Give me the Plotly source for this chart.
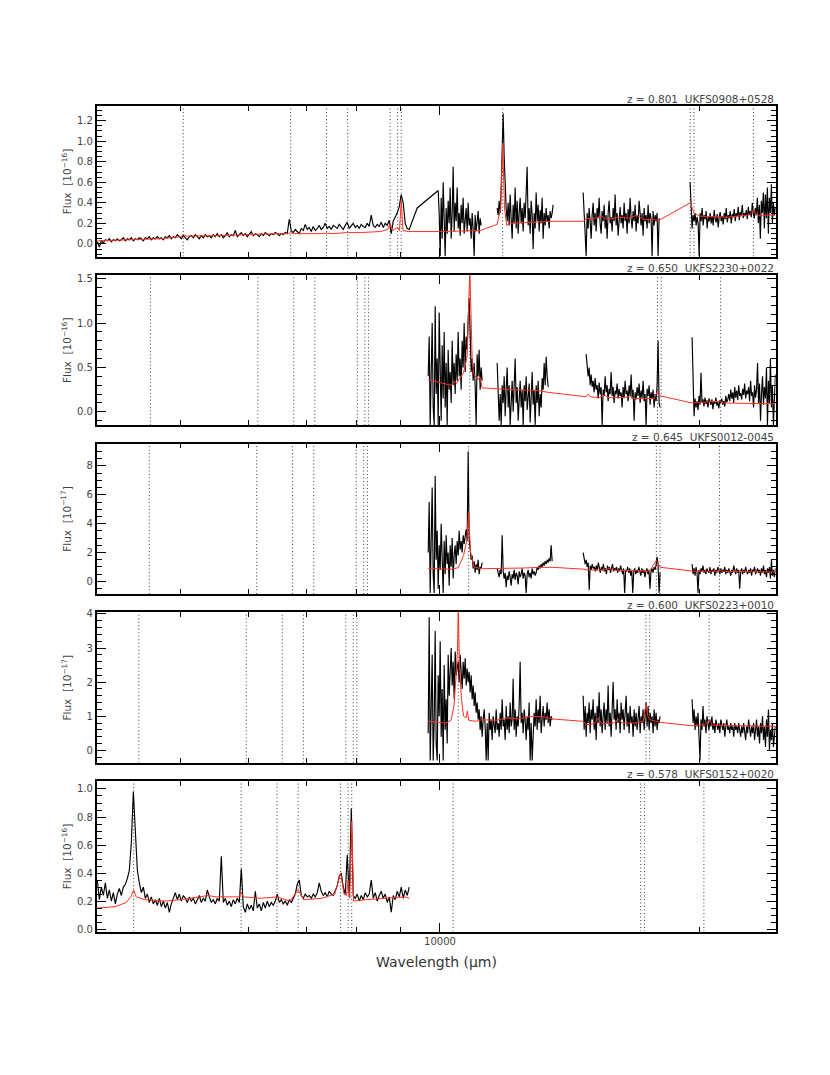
import numpy as np
import plotly.graph_objects as go

W, H = 830, 1075
WL_MIN, WL_MAX = 4000, 24500

REST_LINES = [2798, 3727, 4102, 4340, 4861, 4959, 5007, 6563, 10830, 10938, 12818]
REDSHIFTS = [0.801, 0.650, 0.645, 0.600, 0.578]
NAMES = ["UKFS0908+0528", "UKFS2230+0022", "UKFS0012-0045", "UKFS0223+0010", "UKFS0152+0020"]
FLUX_EXP = [-16, -16, -17, -17, -16]
Y_RANGES = [[-0.123, 1.343], [-0.151, 1.545], [-0.87, 9.55], [-0.365, 4.05], [-0.017, 1.057]]
Y_DTICK = [0.2, 0.5, 2, 1, 0.2]
Y_MINOR = [0.05, 0.1, 0.5, 0.2, 0.05]
Y_FMT = [".1f", ".1f", "d", "d", ".1f"]
X_MAJOR = [10000]
X_MINOR = [5000, 6000, 7000, 8000, 9000, 20000]

# ---------------- Panel 1 (z = 0.801) ----------------
P1_OPT = [0.02, -0.03, 0.03, 0.01, 0.04, 0.03, 0.05, 0.02, 0.04, 0.03,
          0.05, 0.03, 0.04, 0.06, 0.03, 0.05, 0.04, 0.06, 0.03, 0.05,
          0.04, 0.06, 0.05, 0.03, 0.06, 0.05, 0.07, 0.04, 0.06, 0.05,
          0.07, 0.05, 0.06, 0.04, 0.07, 0.06, 0.08, 0.05, 0.07, 0.06,
          0.09, 0.07, 0.05, 0.08, 0.06, 0.04, 0.07, 0.08, 0.06, 0.09,
          0.07, 0.05, 0.08, 0.06, 0.09, 0.07, 0.08, 0.06, 0.09, 0.07,
          0.10, 0.07, 0.09, 0.06, 0.08, 0.11, 0.07, 0.09, 0.08, 0.13,
          0.07, 0.09, 0.11, 0.08, 0.10, 0.07, 0.09, 0.12, 0.08, 0.10,
          0.09, 0.07, 0.10, 0.08, 0.11, 0.09, 0.08, 0.10, 0.09, 0.11,
          0.10, 0.08, 0.10, 0.09, 0.11, 0.10, 0.24, 0.13, 0.11, 0.14,
          0.12, 0.10, 0.15, 0.13, 0.19, 0.14, 0.16, 0.12, 0.17, 0.13,
          0.15, 0.18, 0.14, 0.16, 0.20, 0.15, 0.17, 0.14, 0.18, 0.16,
          0.15, 0.19, 0.16, 0.14, 0.18, 0.21, 0.15, 0.17, 0.20, 0.16,
          0.18, 0.15, 0.19, 0.17, 0.16, 0.20, 0.17, 0.28, 0.18, 0.16,
          0.19, 0.17, 0.21, 0.16, 0.20, 0.18, 0.23, 0.10, 0.22, 0.26,
          0.30, 0.36, 0.48, 0.40, 0.20, 0.15]
P1_OPT_WL = [4007, 9162]
P1_BRIDGE_WL = [9212, 9410]
P1_BRIDGE = [0.14, 0.35]
P1_J1 = [0.52, 0.30, -0.12, 0.45, 0.05, 0.60, 0.15, -0.12, 0.35, 0.10, 0.42, 0.20, 0.55, 0.05,
         0.30, 0.75, 0.12, 0.40, 0.22, 0.55, 0.15, 0.30, 0.08, 0.38, 0.20, 0.45, 0.10, 0.28,
         0.35, 0.12, 0.40, 0.18, 0.25, 0.05, 0.30, 0.15, -0.12, 0.28, 0.12, 0.22, 0.32, 0.10,
         0.25, 0.18]
P1_J1_WL = [9952, 11161]
P1_J2 = [0.35, 0.28, 0.42, 0.30, 0.55, 0.95, 1.27, 0.85, 0.50, 0.35, 0.22, 0.40, 0.18, 0.48,
         0.25, 0.05, 0.38, 0.20, 0.55, 0.15, 0.42, 0.10, 0.30, 0.45, 0.20, 0.35, 0.12, 0.40,
         0.25, 0.52, 0.75, 0.18, 0.35, 0.10, 0.42, 0.28, -0.05, 0.30, 0.15, 0.50, 0.22, 0.38,
         0.12, 0.33, 0.20, 0.45, 0.05, 0.30, 0.18, 0.35, 0.22, 0.28, 0.15, 0.32, 0.25, 0.30, 0.38]
P1_J2_WL = [11649, 13526]
P1_H = [0.50, 0.20, 0.10, -0.12, 0.30, 0.15, 0.35, 0.22, 0.05, 0.28, 0.40, 0.18, 0.30, 0.12,
        0.35, 0.25, 0.45, 0.20, 0.10, 0.32, 0.22, 0.38, 0.15, 0.28, 0.05, 0.30, 0.42, 0.20,
        0.26, 0.12, 0.35, 0.22, 0.48, 0.18, 0.30, 0.08, 0.25, 0.36, 0.20, 0.28, 0.15, 0.40,
        0.22, 0.30, 0.10, 0.34, 0.20, 0.45, 0.25, 0.15, 0.32, 0.22, 0.38, 0.12, 0.28, 0.20,
        0.42, 0.26, 0.18, 0.30, 0.08, 0.35, 0.22, 0.28, 0.15, 0.38, 0.20, 0.30, 0.25, -0.12,
        0.32, 0.18, 0.28, 0.22, 0.30, -0.12, 0.25]
P1_H_WL = [14654, 17947]
P1_K = [0.60, 0.35, 0.15, 0.28, 0.22, 0.30, 0.18, 0.26, 0.20, -0.12, 0.30, 0.22, 0.35, 0.18,
        0.28, 0.24, 0.32, 0.15, 0.26, 0.22, 0.30, 0.20, 0.27, 0.18, 0.33, 0.24, 0.21, 0.29,
        0.16, 0.26, 0.31, 0.22, 0.27, 0.19, 0.30, 0.24, 0.35, 0.21, 0.28, 0.25, 0.32, 0.20,
        0.29, 0.26, 0.34, 0.22, 0.30, 0.27, 0.36, 0.23, 0.31, 0.28, 0.38, 0.25, 0.30, 0.27,
        0.33, 0.24, 0.36, 0.28, 0.32, 0.26, 0.40, 0.30, 0.25, 0.35, 0.28, 0.45, 0.20, 0.38,
        0.05, 0.42, 0.30, 0.50, 0.15, 0.48, 0.25, 0.55, 0.10, 0.45, 0.30, 0.58, 0.20, 0.40,
        0.28, 0.35]
P1_K_WL = [19495, 24480]
P1_MODEL_WL = [4007, 4374, 4740, 5000, 5040, 5081, 5563, 6189, 6669, 6712, 6756, 7265, 7397,
               7500, 7816, 8082, 8524, 8700, 8755, 8810, 8931, 8975, 9018, 9060, 9187, 10005,
               11131, 11649, 11760, 11820, 11880, 11950, 12060, 13526, 14654, 14800, 15000,
               15400, 15600, 16178, 16600, 16900, 17200, 17947, 19505, 19700, 20024, 21500,
               22800, 23085, 23300, 24480]
P1_MODEL = [0.03, 0.04, 0.05, 0.07, 0.09, 0.075, 0.08, 0.095, 0.10, 0.11, 0.10, 0.10, 0.105,
            0.10, 0.11, 0.11, 0.12, 0.14, 0.20, 0.13, 0.16, 0.13, 0.42, 0.13, 0.12, 0.12,
            0.13, 0.19, 0.35, 0.98, 0.35, 0.18, 0.20, 0.22, 0.22, 0.25, 0.24,
            0.27, 0.24, 0.26, 0.25, 0.28, 0.24, 0.23, 0.40, 0.30, 0.27, 0.26,
            0.28, 0.33, 0.28, 0.28]

# ---------------- Panel 2 (z = 0.650) ----------------
P2_A = [0.40, 0.85, -0.15, 0.30, 1.00, 0.05, -0.15, 1.19, 0.20, 0.60, -0.15, 1.12, 0.35, -0.10,
        0.75, 0.15, 0.90, 0.05, 0.55, -0.15, 0.70, 0.25, 0.45, 0.10, 0.80, 0.30, 0.55, 0.20,
        0.65, 0.35, 0.90, 0.40, 0.60, 0.25, 0.80, 0.50, 1.00, 0.45, 0.85, 0.70, 1.05, 1.28,
        0.90, 0.45, 0.60, 0.35, 0.55, 0.30, -0.15, 0.65, 0.40, 0.70, 0.25, 0.50, 0.35]
P2_A_WL = [9690, 11191]
P2_B = [0.55, 0.05, -0.10, 0.20, -0.15, 0.30, 0.10, 0.40, -0.05, 0.25, 0.50, 0.05, 0.30, -0.15,
        0.15, 0.35, 0.00, 0.22, 0.60, 0.10, 0.28, -0.10, 0.18, 0.35, 0.05, 0.25, -0.15, 0.30,
        0.12, 0.40, 0.02, 0.20, 0.32, -0.12, 0.15, 0.45, 0.08, 0.25, -0.15, 0.30, 0.10, 0.35,
        -0.05, 0.20, 0.05, 0.38, 0.25, 0.55, 0.30, 0.62, 0.40, 0.28]
P2_B_WL = [11649, 13348]
P2_C = [0.65, 0.55, 0.40, 0.50, 0.30, 0.42, 0.28, 0.35, 0.22, 0.38, 0.25, 0.30, 0.15, 0.33,
        0.20, 0.28, -0.15, 0.25, 0.18, 0.40, 0.22, 0.30, 0.12, 0.26, 0.20, 0.45, 0.18, 0.28,
        0.10, 0.24, 0.20, 0.32, 0.15, 0.26, 0.18, 0.22, 0.05, 0.28, 0.16, 0.35, 0.20, 0.24,
        0.12, 0.30, 0.18, 0.42, 0.15, 0.25, -0.10, 0.22, 0.14, 0.28, 0.18, 0.32, 0.10, 0.24,
        0.16, 0.35, 0.12, 0.20, -0.15, 0.26, 0.18, 0.30, 0.08, 0.22, 0.15, 0.25, 0.05, 0.20,
        0.12, 0.30, 0.80, 0.10, 0.05]
P2_C_WL = [14772, 17995]
P2_D = [0.84, 0.20, -0.05, 0.15, 0.05, 0.12, 0.02, 0.18, 0.08, 0.44, 0.10, 0.14, 0.06, 0.16,
        0.09, 0.13, 0.05, 0.15, 0.10, 0.08, 0.14, 0.03, 0.12, 0.09, 0.16, 0.07, 0.11, 0.04,
        0.13, 0.10, 0.15, 0.08, 0.12, 0.06, 0.18, 0.11, 0.14, 0.20, 0.12, 0.25, 0.15, 0.22,
        0.10, 0.28, 0.16, 0.24, 0.13, 0.30, 0.18, 0.21, 0.14, 0.26, 0.19, 0.32, 0.15, 0.24,
        0.20, 0.28, 0.12, 0.35, 0.18, 0.22, 0.05, 0.30, 0.16, 0.25, 0.55, 0.10, 0.32, -0.10,
        0.20, 0.40, 0.08, 0.28, 0.15, 0.50, -0.15, 0.35, 0.10, 0.60, 0.05, 0.30, -0.15, 0.25, 0.42]
P2_D_WL = [19599, 24480]
P2_MODEL_WL = [9690, 10000, 10300, 10386, 10450, 10647, 10750, 10829, 10900, 10950, 11080,
               11120, 11191, 11649, 12000, 12500, 13000, 13348, 14772, 14850, 14950, 15300,
               15500, 15700, 16400, 16600, 16800, 17700, 17870, 18000, 19599, 21150, 21300, 24480]
P2_MODEL = [0.36, 0.33, 0.30, 0.35, 0.32, 0.44, 0.62, 1.60, 0.55, 0.42, 0.36,
            0.40, 0.27, 0.26, 0.25, 0.245, 0.24, 0.22, 0.17, 0.20, 0.17, 0.16,
            0.19, 0.16, 0.16, 0.18, 0.15, 0.15, 0.23, 0.18, 0.10, 0.12, 0.10, 0.09]

# ---------------- Panel 3 (z = 0.645) ----------------
P3_A = [2.0, 5.5, -0.8, 3.0, 6.5, 0.5, -0.8, 7.3, 1.5, 3.5, -0.5, 2.5, 0.8, 4.0, 1.0, -0.8,
        2.8, 0.5, 3.2, 1.2, 2.0, -0.3, 2.5, 1.0, 3.0, 0.2, 1.8, 2.5, 1.2, 2.8, 1.8, 3.5, 2.2,
        2.8, 2.0, 3.2, 2.6, 3.0, 3.6, 2.8, 9.0, 3.0, 2.2, 1.5, 1.8, 0.9, 1.4, 0.6, 1.2, 0.8,
        1.5, 0.5, 1.0, 0.9, 1.3]
P3_A_WL = [9690, 11191]
P3_B = [0.9, 0.6, 0.3, 0.8, 0.5, 3.2, 0.7, 0.2, 0.6, -0.4, 0.4, 0.1, 0.7, 0.3, -0.3, 0.5, 0.2,
        0.8, 0.1, 0.6, 0.4, -0.2, 0.7, 0.3, 0.5, 0.9, 0.2, 0.6, 0.4, -0.8, 0.5, 0.8, 0.3, 0.6,
        0.2, 0.9, 0.5, 0.7, 0.4, 0.6, 1.0, 0.8, 1.1, 0.9, 1.2, 1.0, 1.3, 1.1, 1.4, 1.2, 1.5,
        1.3, 1.6, 1.4, 2.5, 1.4]
P3_B_WL = [11649, 13490]
P3_C = [2.0, 1.6, 1.2, 1.5, 1.0, 1.3, -0.6, 1.1, 0.8, 1.2, 0.9, 1.0, 0.7, 1.1, 0.8, 1.3, 0.9,
        0.6, 1.0, 0.8, 1.2, 0.7, 0.9, 0.5, 1.1, 0.8, 1.0, 0.6, 0.9, 1.2, 0.7, 0.9, 0.8, 1.0,
        0.6, 0.9, 0.7, 1.1, 0.8, 0.5, 0.9, -0.8, 0.8, 0.7, 1.0, 0.6, 0.9, 0.4, 0.8, -0.8, 0.7,
        0.9, 0.5, 0.8, 0.6, 1.0, 0.7, 0.4, 0.9, 0.6, 0.8, 0.3, 0.7, 0.9, 0.5, 0.8, -0.5, 0.7,
        0.9, 0.6, 1.0, 0.8, 1.1, 1.7, 1.2, -0.8, 0.6]
P3_C_WL = [14654, 17995]
P3_D = [1.2, 0.5, 0.9, 0.4, 1.0, 0.6, -0.8, 0.8, 0.5, 0.9, 0.7, 1.1, 0.6, 0.8, 0.5, 0.9, 0.7,
        0.6, 1.0, 0.5, 0.8, 0.7, 0.9, 0.4, 0.8, 0.6, 1.0, 0.7, 0.5, 0.9, 0.6, 0.8, 0.7, 1.0,
        0.5, 0.8, 0.6, 0.9, 0.7, 0.4, 0.8, 0.6, 1.1, 0.7, 0.5, 0.9, 0.6, 0.8, -0.5, 0.7, 0.9,
        0.5, 0.8, 0.6, 1.0, 0.7, 0.5, 0.8, 0.6, 0.9, 0.4, 0.8, 0.7, 1.0, 0.5, 0.7, 0.9, 0.6,
        0.8, 0.4, 0.9, 0.6, 1.1, 0.5, 0.8, 0.3, 0.9, 0.6, 1.0, 0.2, 1.5, 0.4, 0.8, 0.3, 0.9]
P3_D_WL = [19599, 24480]
P3_MODEL_WL = [9690, 10000, 10300, 10500, 10650, 10740, 10796, 10850, 10950, 11191, 11649,
               12000, 12500, 13000, 13490, 14654, 14800, 15500, 15700, 15900, 16800, 17500,
               17815, 17950, 17995, 19599, 21000, 21086, 21200, 24480]
P3_MODEL = [0.9, 0.88, 0.85, 0.95, 1.8, 2.8, 4.8, 2.0, 1.0, 0.88, 0.88,
            0.90, 0.93, 0.97, 0.98, 0.85, 0.80, 0.78, 0.90, 0.78, 0.75, 0.72,
            1.45, 1.0, 0.98, 0.72, 0.70, 0.85, 0.70, 0.65]

# ---------------- Panel 4 (z = 0.600) ----------------
P4_A = [0.5, 3.9, -0.3, 1.2, 2.8, -0.3, 0.8, 3.5, 0.2, -0.3,
        2.2, 1.0, 3.2, 0.4, 1.8, -0.3, 2.5, 0.6, 1.5, 0.2,
        2.8, 1.6, 2.2, 3.0, 1.9, 2.6, 1.5, 2.9, 2.2, 2.4,
        2.6, 2.0, 2.8, 2.3, 1.8, 2.6, 2.1, 2.7, 1.9, 2.4,
        2.0, 2.3, 1.7, 2.2, 1.5, 1.9, 1.3, 1.7, 1.1, 1.4,
        0.9, 1.2, 0.6, 1.0, 0.4, 0.9, 1.2, 0.7, -0.3, 0.8,
        -0.3, 1.1, 0.6, 0.9, 0.3, 1.0, 0.7, 0.5, 1.2, 0.6,
        0.8, 0.4, 1.1, 0.6, 1.5, 0.7, 0.9, 0.3, 1.3, 0.6,
        1.0, 0.5, 1.4, 0.7, 0.9, 2.1, 0.6, 1.2, 0.4, 1.0,
        0.7, 1.3, 2.6, 0.8, 1.1, 0.5, 1.2, 0.9, 0.3, 1.0,
        0.6, 1.4, -0.3, 0.8, -0.3, 0.5, 1.1, 0.7, 1.5, 0.6,
        1.2, 0.8, 1.6, 0.5, 1.0, 1.3, 0.7, 1.1, 0.9, 1.4,
        0.8, 1.2, 0.7, 1.0, 0.9]
P4_A_WL = [9690, 13490]
P4_B = [1.6, 0.6, 1.3, 0.4, 1.1, 0.8, 1.4, 0.5, 1.2, 0.9, 1.5, 0.6, 1.1, 0.3, 1.3, 0.8, 1.7,
        0.7, 1.2, 0.5, 1.0, 1.4, 0.6, 1.2, 0.8, 1.9, 0.7, 1.1, 0.4, 1.3, 2.0, 0.9, 1.2, 0.6,
        1.5, 0.8, 1.1, 0.5, 1.4, 0.9, 1.2, 0.6, 1.0, 1.6, 0.7, 1.1, 0.5, 1.3, 0.8, 1.0, 0.4,
        1.2, 0.7, 1.1, 0.6, 0.9, 1.3, 0.5, 1.0, 0.8, 1.2, 0.6, 0.9, 1.4, 0.7, 1.3, 0.6, 1.1,
        0.8, 1.0, 0.5, 1.2, 0.7, 1.1, 0.6, 0.9, 0.8, 1.0]
P4_B_WL = [14654, 17995]
P4_C = [1.5, 0.8, 1.2, 0.6, 1.0, 0.7, 1.1, 0.5, -0.3, 0.9, 0.6, 1.3, 0.7, 0.9, 0.5, 1.0, 0.8,
        0.6, 0.9, 0.7, 1.0, 0.6, 0.8, 0.5, 0.9, 0.7, 0.6, 0.8, 0.5, 0.9, 0.7, 0.6, 0.8, 0.4,
        0.7, 0.9, 0.6, 0.7, 0.5, 0.8, 0.6, 0.7, 0.4, 0.8, 0.6, 0.7, 0.5, 0.8, 0.6, 0.4, 0.7,
        0.5, 0.8, 0.6, 0.3, 0.7, 0.5, 0.9, 0.6, 0.4, 0.7, 0.5, 0.8, 0.3, 0.6, 0.9, 0.4, 0.7,
        0.2, 0.8, 0.5, 1.0, 0.3, 0.7, 0.1, 0.9, 0.4, 1.2, 0.0, 0.6, 0.3, 0.8, 0.1, 0.5, 0.7]
P4_C_WL = [19599, 24480]
P4_MODEL_WL = [9690, 9900, 10150, 10300, 10380, 10440, 10480, 10501, 10530, 10590, 10650,
               10720, 10758, 10800, 11000, 11200, 11600, 12000, 12300, 12800, 13200, 13490,
               14654, 14800, 15100, 15250, 15400, 15900, 16100, 16250, 16800, 17200, 17328,
               17420, 17501, 17995, 19599, 20300, 20509, 20700, 24480]
P4_MODEL = [0.85, 0.83, 0.80, 0.88, 1.3, 2.2, 3.0, 4.3, 2.6, 1.5, 1.0,
            0.95, 1.15, 0.88, 0.85, 0.90, 0.88, 0.95, 0.92, 1.0, 0.98, 0.92,
            0.85, 0.75, 0.78, 0.95, 0.78, 0.80, 0.92, 0.80, 0.80, 0.85, 1.35,
            1.0, 0.9, 0.82, 0.72, 0.75, 0.90, 0.74, 0.70]

# ---------------- Panel 5 (z = 0.578) ----------------
P5_OPT = [0.35, 0.21, 0.30, 0.24, 0.33, 0.22, 0.28, 0.20, 0.26, 0.18,
          0.25, 0.29, 0.24, 0.30, 0.32, 0.36, 0.42, 0.62, 0.98, 0.72,
          0.42, 0.33, 0.26, 0.30, 0.22, 0.25, 0.19, 0.23, 0.18, 0.21,
          0.17, 0.22, 0.16, 0.20, 0.15, 0.19, 0.12, 0.18, 0.22, 0.26,
          0.21, 0.25, 0.20, 0.24, 0.22, 0.19, 0.23, 0.20, 0.22, 0.18,
          0.21, 0.24, 0.19, 0.22, 0.20, 0.28, 0.23, 0.19, 0.21, 0.18,
          0.22, 0.20, 0.52, 0.19, 0.22, 0.17, 0.20, 0.16, 0.21, 0.18,
          0.22, 0.19, 0.43, 0.16, 0.12, 0.18, 0.14, 0.17, 0.13, 0.27,
          0.15, 0.18, 0.13, 0.19, 0.15, 0.20, 0.16, 0.19, 0.17, 0.20,
          0.25, 0.19, 0.21, 0.18, 0.20, 0.17, 0.21, 0.19, 0.22, 0.25,
          0.32, 0.35, 0.24, 0.22, 0.25, 0.23, 0.24, 0.22, 0.25, 0.23,
          0.26, 0.33, 0.27, 0.24, 0.26, 0.23, 0.27, 0.25, 0.24, 0.28,
          0.31, 0.38, 0.40, 0.30, 0.25, 0.53, 0.23, 0.86, 0.24, 0.22,
          0.25, 0.20, 0.24, 0.21, 0.26, 0.23, 0.25, 0.35, 0.22, 0.26,
          0.20, 0.24, 0.27, 0.22, 0.25, 0.19, 0.23, 0.12, 0.24, 0.21,
          0.27, 0.23, 0.30, 0.22, 0.28, 0.24, 0.30]
P5_OPT_WL = [4007, 9212]
P5_MODEL_WL = [4007, 4200, 4330, 4390, 4415, 4445, 4550, 4800, 5000, 5200, 5386, 5500, 5850,
               5881, 5920, 6200, 6473, 6700, 6849, 6950, 7300, 7550, 7671, 7740, 7790, 7825,
               7860, 7901, 7940, 8200, 8700, 9100, 9212]
P5_MODEL = [0.15, 0.16, 0.19, 0.24, 0.28, 0.23, 0.21, 0.20, 0.21, 0.225, 0.24, 0.23, 0.23,
            0.26, 0.23, 0.22, 0.23, 0.20, 0.28, 0.21, 0.22, 0.25, 0.40, 0.25, 0.24, 0.35,
            0.22, 0.77, 0.20, 0.21, 0.22, 0.23, 0.22]


def seg(wl, flux):
    x = np.geomspace(wl[0], wl[1], len(flux))
    return list(x), list(flux)


def joined(*parts):
    xs, ys = [], []
    for x, y in parts:
        xs += list(x)
        ys += list(y)
    return xs, ys


p1_main = joined(seg(P1_OPT_WL, P1_OPT), (P1_BRIDGE_WL, P1_BRIDGE), seg(P1_J1_WL, P1_J1))
PANELS = [
    dict(spec=[p1_main, seg(P1_J2_WL, P1_J2), seg(P1_H_WL, P1_H), seg(P1_K_WL, P1_K)],
         model=(P1_MODEL_WL, P1_MODEL)),
    dict(spec=[seg(P2_A_WL, P2_A), seg(P2_B_WL, P2_B), seg(P2_C_WL, P2_C), seg(P2_D_WL, P2_D)],
         model=(P2_MODEL_WL, P2_MODEL)),
    dict(spec=[seg(P3_A_WL, P3_A), seg(P3_B_WL, P3_B), seg(P3_C_WL, P3_C), seg(P3_D_WL, P3_D)],
         model=(P3_MODEL_WL, P3_MODEL)),
    dict(spec=[seg(P4_A_WL, P4_A), seg(P4_B_WL, P4_B), seg(P4_C_WL, P4_C)],
         model=(P4_MODEL_WL, P4_MODEL)),
    dict(spec=[seg(P5_OPT_WL, P5_OPT)],
         model=(P5_MODEL_WL, P5_MODEL)),
]

# layout geometry (page pixels)
X_LEFT, X_RIGHT = 96.7, 775.7
PANEL_TOPS = [106, 274.75, 443.5, 612.25, 781]
PANEL_H = 150.5

fig = go.Figure()
FONT = "DejaVu Sans"
GREY = "#444444"

layout = dict(
    width=W, height=H, margin=dict(l=0, r=0, t=0, b=0),
    paper_bgcolor="white", plot_bgcolor="white", showlegend=False,
    font=dict(family=FONT, size=10, color=GREY),
)
annotations = []

for k, panel in enumerate(PANELS):
    ax = "" if k == 0 else str(k + 1)
    xa, ya = "x" + ax, "y" + ax
    z = REDSHIFTS[k]
    y0, y1 = Y_RANGES[k]
    # dotted markers for the redshifted emission lines
    for rl in REST_LINES:
        wl = rl * (1 + z)
        if WL_MIN < wl < WL_MAX:
            fig.add_trace(go.Scatter(x=[wl, wl], y=[y0, y1], mode="lines", xaxis=xa, yaxis=ya,
                                     line=dict(color="#3a3a3a", width=1, dash="1px,2.5px"),
                                     hoverinfo="skip"))
    for sx, sy in panel["spec"]:
        fig.add_trace(go.Scatter(x=sx, y=sy, mode="lines", xaxis=xa, yaxis=ya,
                                 line=dict(color="black", width=1.15)))
    mx, my = panel["model"]
    fig.add_trace(go.Scatter(x=mx, y=my, mode="lines", xaxis=xa, yaxis=ya,
                             line=dict(color="#ff3020", width=1)))

    top = PANEL_TOPS[k]
    bot = top + PANEL_H
    last = (k == len(PANELS) - 1)
    layout["xaxis" + ax] = dict(
        type="log", range=[np.log10(WL_MIN), np.log10(WL_MAX)],
        domain=[X_LEFT / W, X_RIGHT / W], anchor=ya,
        tickmode="array", tickvals=X_MAJOR, ticktext=[str(v) for v in X_MAJOR],
        showticklabels=last, ticks="inside", ticklen=9, tickwidth=1.3, tickcolor="black",
        minor=dict(tickmode="array", tickvals=X_MINOR, ticks="inside", ticklen=5,
                   tickwidth=1.1, tickcolor="black"),
        showline=True, linecolor="black", linewidth=1.6, mirror="allticks",
        showgrid=False, zeroline=False, automargin=False,
        tickfont=dict(family=FONT, size=10, color=GREY),
    )
    layout["yaxis" + ax] = dict(
        range=[y0, y1], domain=[1 - bot / H, 1 - top / H], anchor=xa,
        dtick=Y_DTICK[k], tick0=0, tickformat=Y_FMT[k],
        ticks="inside", ticklen=9, tickwidth=1.3, tickcolor="black",
        minor=dict(dtick=Y_MINOR[k], tick0=0, ticks="inside", ticklen=5,
                   tickwidth=1.1, tickcolor="black"),
        showline=True, linecolor="black", linewidth=1.6, mirror="allticks",
        showgrid=False, zeroline=False, automargin=False,
        tickfont=dict(family=FONT, size=10, color=GREY),
    )
    annotations.append(dict(
        xref="paper", yref="paper", x=X_RIGHT / W, y=1 - (top - 7) / H,
        xanchor="right", yanchor="middle", showarrow=False,
        text="z = %.3f\u00a0\u00a0%s" % (z, NAMES[k]),
        font=dict(family=FONT, size=10.5, color=GREY)))
    annotations.append(dict(
        xref="paper", yref="paper", x=66 / W, y=1 - (top + PANEL_H / 2) / H,
        xanchor="center", yanchor="middle", showarrow=False, textangle=-90,
        text="Flux\u00a0\u00a0[10<sup>\u2212%d</sup>]" % (-FLUX_EXP[k]),
        font=dict(family=FONT, size=10.5, color=GREY)))

annotations.append(dict(
    xref="paper", yref="paper", x=436 / W, y=1 - 962 / H,
    xanchor="center", yanchor="middle", showarrow=False,
    text="Wavelength (\u03bcm)", font=dict(family=FONT, size=14, color="#333333")))
layout["annotations"] = annotations
fig.update_layout(**layout)

fig.write_html("out.html", config={"displayModeBar": False},
               post_script="document.body.style.margin='0';")
